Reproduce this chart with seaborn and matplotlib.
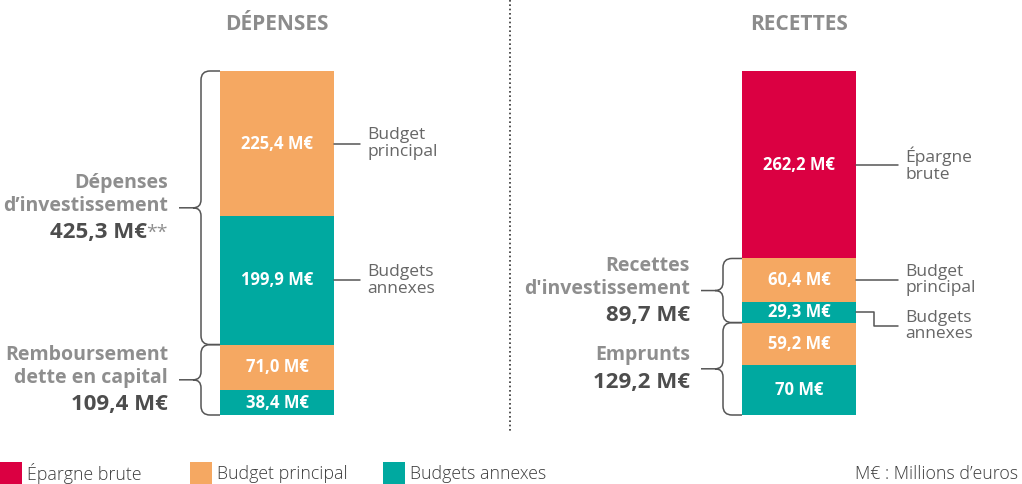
import matplotlib
matplotlib.use("Agg")
import matplotlib.pyplot as plt
import seaborn as sns
from matplotlib.path import Path
from matplotlib.patches import PathPatch, Rectangle
from matplotlib.lines import Line2D

sns.set_theme(style="white")
plt.rcParams["font.family"] = ["Open Sans", "DejaVu Sans"]

# ---- data (M€) -------------------------------------------------------------
budget_colors = {
    "Épargne brute": "#DB0042",
    "Budget principal": "#F5A862",
    "Budgets annexes": "#00A9A0",
}

# Dépenses, stacked bottom -> top
dep_values = [38.4, 71.0, 199.9, 225.4]
dep_budgets = ["Budgets annexes", "Budget principal", "Budgets annexes", "Budget principal"]
dep_labels = ["38,4 M€", "71,0 M€", "199,9 M€", "225,4 M€"]
dep_side = [None, None, "Budgets\nannexes", "Budget\nprincipal"]
dep_groups = [("Remboursement\ndette en capital", 0, 2, ""),
              ("Dépenses\nd’investissement", 2, 4, "**")]

# Recettes, stacked bottom -> top
rec_values = [70.0, 59.2, 29.3, 60.4, 262.2]
rec_budgets = ["Budgets annexes", "Budget principal", "Budgets annexes",
               "Budget principal", "Épargne brute"]
rec_labels = ["70 M€", "59,2 M€", "29,3 M€", "60,4 M€", "262,2 M€"]
rec_side = [None, None, "Budgets\nannexes", "Budget\nprincipal", "Épargne\nbrute"]
rec_groups = [("Emprunts", 0, 2, ""),
              ("Recettes\nd'investissement", 2, 4, "")]

# ---- styling ---------------------------------------------------------------
GREY_HEAD = "#8C8C8C"
GREY_GROUP = "#8E8E8E"
DARK = "#4D4D4D"
SIDE_TXT = "#666666"
LINE = "#555555"

W, H = 1022, 484
fig = plt.figure(figsize=(W / 100, H / 100), dpi=100)
fig.patch.set_facecolor("white")

BAR_W = 0.8
XS = 114 / BAR_W          # pixels per x data unit
PT = 0.72                 # points per pixel at 100 dpi


def fmt(v):
    return f"{v:.1f}".replace(".", ",") + " M€"


def make_axes(left_px, center_px):
    ax = fig.add_axes([left_px / W, 69 / H, 511 / W, 344 / H])
    lo = -(center_px - left_px) / XS
    return ax, (lo, lo + 511 / XS)


def brace(ax, y0, y1):
    t = ax.transData
    xb, yb = t.transform((-BAR_W / 2, y0))
    _, yt = t.transform((-BAR_W / 2, y1))
    ym = (yb + yt) / 2
    xv = xb - 19
    xc = xv - 8
    xt = xv - 22
    r = 9
    verts = [(xb, yt), (xv + r, yt), (xv, yt), (xv, yt - r),
             (xv, ym + 8), (xv, ym), (xc, ym), (xt, ym),
             (xc, ym), (xv, ym), (xv, ym - 8),
             (xv, yb + r), (xv, yb), (xv + r, yb), (xb, yb)]
    codes = [Path.MOVETO, Path.LINETO, Path.CURVE3, Path.CURVE3,
             Path.LINETO, Path.CURVE3, Path.CURVE3, Path.LINETO,
             Path.MOVETO, Path.CURVE3, Path.CURVE3,
             Path.LINETO, Path.CURVE3, Path.CURVE3, Path.LINETO]
    data_verts = t.inverted().transform(verts)
    ax.add_patch(PathPatch(Path(data_verts, codes), fill=False,
                           edgecolor=LINE, lw=1.1, clip_on=False))
    return (y0 + y1) / 2


def draw_side(ax, xlim, title, values, budgets, labels, side, groups, lead_px, elbow=None):
    total = sum(values)
    ys = 344 / total  # pixels per y data unit

    bottom = 0.0
    for v, b in zip(values, budgets):
        sns.barplot(x=[title], y=[v], bottom=bottom, color=budget_colors[b],
                    saturation=1, width=BAR_W, linewidth=0, errorbar=None, ax=ax)
        bottom += v

    ax.set_xlim(*xlim)
    ax.set_ylim(0, total)
    ax.axis("off")

    # header
    ax.annotate(title.upper(), xy=(0, 1), xycoords=("data", "axes fraction"),
                xytext=(0, 46 * PT), textcoords="offset points",
                ha="center", va="center", fontsize=15, fontweight="bold",
                color=GREY_HEAD)

    # values inside the segments
    bottom = 0.0
    for v, lab in zip(values, labels):
        ax.text(0, bottom + v / 2, lab, ha="center", va="center",
                fontsize=12, fontweight="bold", color="white")
        bottom += v

    # leader lines and side labels
    bottom = 0.0
    xr = BAR_W / 2
    for i, (v, s) in enumerate(zip(values, side)):
        yc = bottom + v / 2
        bottom += v
        if s is None:
            continue
        if elbow is not None and i == elbow[0]:
            yl = yc - elbow[1] / ys
            xe = xr + 18 / XS
            ax.plot([xr, xe, xe, xr + lead_px / XS], [yc, yc, yl, yl],
                    color=LINE, lw=1.1, clip_on=False)
        else:
            yl = yc
            ax.plot([xr, xr + lead_px / XS], [yc, yc], color=LINE, lw=1.1,
                    clip_on=False)
        ax.text(xr + (lead_px + 7) / XS, yl, s, ha="left", va="center",
                fontsize=12.5, color=SIDE_TXT, linespacing=1.05)

    # group braces with name and total
    renderer = fig.canvas.get_renderer()
    cum = [0.0]
    for v in values:
        cum.append(cum[-1] + v)
    for name, i0, i1, note in groups:
        ym = brace(ax, cum[i0], cum[i1])
        group_total = sum(values[i0:i1])
        lines = name.split("\n")
        offs = [-23 * k for k in range(len(lines))]
        val_off = offs[-1] - 27
        shift = -(offs[0] + val_off) / 2
        xg = -BAR_W / 2
        for ln, o in zip(lines, offs):
            ax.annotate(ln, xy=(xg, ym), xytext=(-52 * PT, (o + shift) * PT),
                        textcoords="offset points", ha="right", va="center",
                        fontsize=14, fontweight="bold", color=GREY_GROUP)
        extra = 0.0
        if note:
            t = ax.annotate(note, xy=(xg, ym), xytext=(-52 * PT, (val_off + shift) * PT),
                            textcoords="offset points", ha="right", va="center",
                            fontsize=14, color=GREY_GROUP)
            extra = t.get_window_extent(renderer).width
        ax.annotate(fmt(group_total), xy=(xg, ym),
                    xytext=((-52 - extra) * PT, (val_off + shift) * PT),
                    textcoords="offset points", ha="right", va="center",
                    fontsize=16, fontweight="bold", color=DARK)


axL, xlimL = make_axes(0, 277)
axR, xlimR = make_axes(511, 799)

draw_side(axL, xlimL, "Dépenses", dep_values, dep_budgets, dep_labels, dep_side,
          dep_groups, lead_px=26)
draw_side(axR, xlimR, "Recettes", rec_values, rec_budgets, rec_labels, rec_side,
          rec_groups, lead_px=42, elbow=(2, 14))

# dotted separator between the two halves
fig.add_artist(Line2D([510 / W, 510 / W], [1, (H - 432) / H],
                      transform=fig.transFigure, color="#333333", lw=1.2,
                      linestyle=(0, (1, 1.6))))

# legend along the bottom
legend_x = [0, 190, 383]
for (name, col), x in zip(budget_colors.items(), legend_x):
    fig.add_artist(Rectangle((x / W, 0), 22 / W, 22 / H, transform=fig.transFigure,
                             facecolor=col, edgecolor="none"))
    fig.text((x + 27) / W, 10 / H, name, ha="left", va="center",
             fontsize=12.8, fontweight="light", color="#3C3C3C")
fig.text(1018 / W, 10 / H, "M€ : Millions d’euros", ha="right", va="center",
         fontsize=12.8, fontweight="light", color="#3C3C3C")

fig.savefig("out.png", dpi=100, facecolor="white")
